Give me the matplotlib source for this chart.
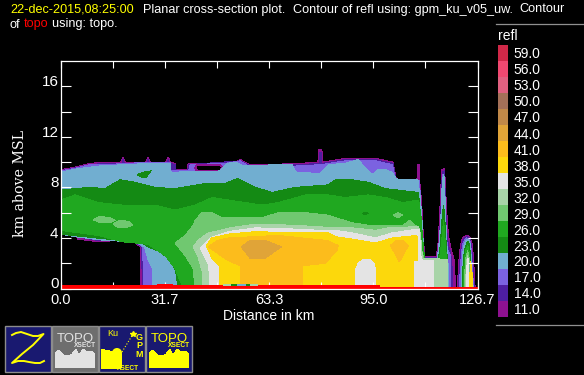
import numpy as np
import matplotlib
matplotlib.use("Agg")
import matplotlib.pyplot as plt
from matplotlib.lines import Line2D

W, H = 584, 375
SANS = ["Liberation Sans", "DejaVu Sans"]
TITLE = ["Liberation Sans", "DejaVu Sans"]

LEVELS = [11, 14, 17, 20, 23, 26, 29, 32, 35, 38, 41, 44, 47, 50, 53, 56, 59]
COLORS = ["#8E1190", "#4E1EA0", "#7B62E0", "#71AED0", "#148A14", "#20A820", "#70C870",
          "#A8D4A8", "#E4E4E4", "#FCD80C", "#FCBC1C", "#E0A438", "#C08848", "#A47058",
          "#E06080", "#F04870", "#D02848"]
XTICK_LABELS = ["0.0", "", "31.7", "", "63.3", "", "95.0", "", "126.7"]
XTICKS = [0, 15.84, 31.67, 47.51, 63.35, 79.19, 95.02, 110.86, 126.7]
YTICKS = [0, 2, 4, 6, 8, 10, 12, 14, 16]
YTICK_LABELS = ["0", "", "4", "", "8", "", "12", "", "16"]

# Outer edge of each reflectivity region: distance (km) and height (km)
X11_T = [0,4.4,9,13.5,18.3,19,19.7,25.9,26.6,27.3,32,32.7,33.4,34.8,35.1,38.5,38.8,50,54,54.6,57.6,62,72.9,78.2,78.5,79.4,79.7,86.5,95.7,101,102,102.5,108.3,108.5,109,109.3,109.7,110.3,110.7,114.2,114.8,115.4,115.8,116.7,117,117.6,117.9,118.5,119.7,120]
Y11_T = [9.4,9.6,9.9,10,10,10.4,10,10,10.4,10,10,10.4,10,9.9,9.4,9.4,9.9,9.9,10.1,10.2,9.8,9.8,9.9,10,11,11,10,10.3,10.3,10,8.7,8.6,8.6,9.8,9.8,7.8,7,3.8,2.5,2.5,3.8,7,9.4,9.5,7.8,5,4.2,3.3,2.2,0]
X11_B = [0,4.4,5.3,11.4,17.5,22.7,24.2,24.4,120]
Y11_B = [4.4,4.2,3.9,3.7,3.8,3.6,3.3,0,0]

X14_T = [0,9,13.5,18.7,19,19.4,26.3,26.6,26.9,32.4,32.7,33,34.8,35.2,38.6,38.9,54.6,57.6,72.9,78.6,78.8,79.2,79.4,86.5,95.7,101,101.9,102.4,108.9,109.4,110,110.6,114.5,115.1,115.7,116,116.6,116.9,117.3,117.9,118.5,119,119.2]
Y14_T = [9.3,9.8,9.9,9.9,10.2,9.9,9.9,10.2,9.9,9.9,10.2,9.9,9.8,9.3,9.3,9.8,10.1,9.7,9.8,9.9,10.8,10.8,9.9,10.2,10.2,9.9,8.7,8.5,8.5,7.2,3.8,2.45,2.45,3.8,7,9.2,9.3,7.5,4.6,3.4,2.9,1.6,0]
X14_B = [0,5,11.4,17.5,22.7,24.5,25,119.2]
Y14_B = [4.4,4.1,3.8,3.9,3.7,3.3,0,0]

X17_T = [0,4.4,9,13.5,27.2,33.3,33.6,38.9,39.4,50,54.6,57.6,72.9,78.8,79.2,86.5,95.7,100.8,101.8,102.3,109,109.4,110.1,110.5,114.7,115.3,115.8,116.2,116.5,116.8,117.2,117.7,118.5,118.6]
Y17_T = [9.3,9.5,9.8,9.8,10,10,9.3,9.3,9.8,9.9,10.1,9.6,9.7,9.8,9.8,10.1,10.1,9.8,8.65,8.55,8.55,7.1,3.8,2.4,2.4,3.8,6.6,9,9,7.5,4.2,3,2.6,0]
X17_B = [0,5,11.4,17.5,22.7,25,25.2,118.6]
Y17_B = [4.35,4.1,3.85,3.9,3.7,3.3,0,0]

X20_T = [0,5.9,12,27.2,33.3,33.6,48.5,50.6,53.1,55.5,61.6,63.7,70.4,71.6,78.9,81.4,86.5,90.5,91.7,93.2,94.7,96.3,98.7,100.8,102,102.7,108.6,109.4,110,110.4,114.5,115.1,115.7,116,116.5,116.8,117.3,117.7,117.9]
Y20_T = [9.2,9.5,9.7,9.9,9.9,9.2,9.3,9.9,10,9.7,9.7,9.8,9.8,9.2,9.1,9.8,9.9,10.2,9.8,9.4,9,9.4,9.4,9.2,8.7,8.6,8.6,7,4.8,2.4,2.4,3.8,6.2,8.6,9,7.4,3.8,2.4,0]
X20_B = [0,4.4,13.5,22.7,25.5,26.7,27.9,28.1,117.9]
Y20_B = [4.3,4.1,3.8,3.7,3.3,2.2,1.6,0,0]

X23_T = [0,9,13.5,18.1,22.7,28.7,34.8,43.9,50,53.7,59.2,64.3,71.3,81.4,83.5,88.7,93.5,98.7,108.8,109.5,110.1,110.6,114.8,115.4,116,116.4,116.7,117.3,117.6,117.7]
Y23_T = [7.8,8,7.9,8.6,8.4,8,7.9,8.3,8.3,8.7,8,7.6,8,8.2,8.6,8.6,8.4,7.9,7.6,5,3.4,2.3,2.3,3.4,5.8,6.6,5.8,3,2.3,0]
X23_B = [0,18.1,24.2,26.6,30.3,33.5,35,35.7,117.7]
Y23_B = [4.3,3.8,3.7,3.3,2.9,2.2,1.4,0,0]

X26_T = [0,4.4,11.4,18.7,28.7,34.8,40.9,46.1,51,61.3,66.2,74.4,81.4,86.5,93.5,98.7,104,108.8,109.5,110,110.7,115.1,115.7,116.4,117,117.3,117.6]
Y26_T = [7,7.4,6.8,6.6,6.6,6.2,6.6,7.2,7,6.6,6.8,7.4,7.4,7.2,7.4,7.2,6.8,7,5.8,4,2.2,2.2,3.4,5.4,3.4,2.2,0]
X26_B = [0,11.4,18.7,26.6,31.8,34.8,37.3,117.6]
Y26_B = [4.6,4.2,3.7,3.5,2.6,1.6,0,0]

X29_T = [34.8,37.9,40.3,40.9,43,46.1,49.1,61.3,66.2,74.4,81.4,83.5,88.7,93.5,99.6,104.2,106,107.8,108.8,109.7,110.7,117.6]
Y29_T = [3.6,4.2,5,5.4,6,6,5.6,5.6,6,6,5.8,5.6,5.2,5,5,5,5.4,5,4.8,3,2.2,2.2]
X29_B = [34.8,37.9,40.3,40.9,117.6]
Y29_B = [3.6,2.6,1.6,0,0]

X32_T = [40.3,41.8,43.3,44.9,48.5,51.6,59.2,71.3,83.5,88.7,95.7,99.6,108.8,109.4,110,117.6]
Y32_T = [3.3,3.8,4.1,4.4,4.6,4.8,5.1,5,4.8,4.8,4.6,4.8,4.9,4.2,2.4,2.3]
X32_B = [40.3,41.8,43,43.3,117.6]
Y32_B = [3.3,2.5,1.4,0,0]

X35_T = [42.4,45.5,51,59.2,71.3,78.9,83.5,88.7,95.7,100.8,108.4,109.1,109.4,110,113.3,113.4]
Y35_T = [3.2,4,4.5,4.8,4.7,4.6,4.6,4.4,4,4.4,4.7,4.7,2.6,2.2,2.2,0]
X35_B = [42.4,45.1,45.2,113.4]
Y35_B = [3.2,1.8,0,0]

X38_T = [44.3,45.9,51,59.2,71.3,81.4,83.5,88.7,95.7,100.8,108.2,108.4,108.5,107.4,107.3]
Y38_T = [3.4,4,4.3,4.5,4.4,4.4,4.1,3.9,3.6,4,4.2,4,2.2,2.2,0]
X38_B = [44.3,46,48.2,48.5,107.3]
Y38_B = [3.4,2.4,1.8,0,0]

X41_T = [44.9,47.6,51,66.2,73.5,81,84.4]
Y41_T = [3.3,3.8,4,4.2,4,3.8,3.4]
X41_B = [44.9,47.6,51,54.6,54.7,73.4,73.5,80.4,84,84.4]
Y41_B = [3.3,2.8,2.2,1.8,0,0,1.8,2,3,3.4]

X41B_T = [100.2,102,104,105.7]
Y41B_T = [3.4,3.8,3.8,3.4]
X41B_B = [100.2,102,103,104,105.7]
Y41B_B = [3.4,2.6,2.1,2.6,3.4]

X44_T = [54.9,57.6,62.2,67.1]
Y44_T = [3.3,3.8,3.8,3.3]
X44_B = [54.9,57.6,62.2,67.1]
Y44_B = [3.3,2.4,2.4,3.3]

# Dome of 35 dBZ below the 38 dBZ region, and echo-free cavity near the top
DOME_X = [89.6,89.6,90.5,92,94,95.3,95.7,95.7]
DOME_Y = [0,1.5,2,2.3,2.3,2,1.5,0]
HOLE_X = [40.9,41.5,48.5,49.1,48.5,41.5]
HOLE_Y = [9.55,9.8,9.8,9.55,9.3,9.3]

# Small embedded cells
BLOB23A_X = [23.3,25,27.5,26,24.8]
BLOB23A_Y = [9,9.2,9.3,8.8,8.8]
BLOB23B_X = [91.7,92.6,93.5,92.6]
BLOB23B_Y = [5.95,6.05,5.95,5.85]
BLOB29A_X = [9.9,12,15,16.6,15,12]
BLOB29A_Y = [5.45,5.7,5.6,5.4,5.2,5.2]
BLOB29B_X = [16,18,21,21.8,19.5,17.5]
BLOB29B_Y = [5.1,5.4,5.3,5,4.8,4.8]
BLOB29C_X = [101.1,102.5,103.9,102.5]
BLOB29C_Y = [5.8,6,5.8,5.6]

# Eastern tower
TX11 = [120.6,120.9,121.5,122.1,123.4,124.3,125.2,125.7,126]
TY11 = [0,1.8,3.4,4,4.2,4.1,3.4,1.4,0]
TX14 = [120.9,121.2,121.8,122.4,123.4,124.3,124.9,125.4,125.8]
TY14 = [0,1.8,3.4,3.9,4.1,4,3.4,1.4,0]
TX17 = [121.2,121.5,122.1,122.7,123.4,124.3,124.7,125.2,125.5]
TY17 = [0,1.8,3.4,3.8,4,3.9,3.3,1.4,0]
TX20 = [121.8,122,122.4,123,123.7,124.3,124.6,125,125.4]
TY20 = [0,1.8,3.3,3.7,3.9,3.7,3.3,1.4,0]
TX23 = [122.1,122.3,122.7,123.4,123.8,124.3,124.6,124.9]
TY23 = [0,1.8,3,3.6,3.7,3.5,2.2,0]
TX26 = [122.4,122.6,123,123.7,124.1,124.6,124.8]
TY26 = [0,1.8,2.9,3.4,3,1.4,0]
TX29 = [122.7,123,123.7,124.1,124.4]
TY29 = [0,2.2,3,2.6,0]
TX32 = [123,123.4,123.7,124,124.3]
TY32 = [0,2.1,2.6,2.1,0]
TX35 = [123.2,123.5,123.8,124,124.2]
TY35 = [0,1.8,2.4,1.8,0]
TX38 = [124.3,124.5,125,125.1]
TY38 = [0,2.1,1.8,0]

# Terrain
TOPO_X = [0,29.4,29.5,34,34.1,97,97.1,126.7,126.7,0]
TOPO_Y = [0.2,0.2,0.32,0.32,0.2,0.2,0.07,0.07,0,0]

plt.rcParams["font.family"] = SANS
fig = plt.figure(figsize=(W / 100, H / 100), dpi=100, facecolor="black")
ax = fig.add_axes([60.5 / W, 1 - 288.5 / H, 417 / W, 227.5 / H], facecolor="black")


def region(xt, yt, xb, yb, color):
    px = list(xt) + list(xb)[::-1]
    py = list(yt) + list(yb)[::-1]
    ax.fill(px, py, color=color, lw=0, antialiased=False)


def blob(x, y, color):
    ax.fill(x, y, color=color, lw=0, antialiased=False)


c = dict(zip(LEVELS, COLORS))
region(X11_T, Y11_T, X11_B, Y11_B, c[11]); blob(TX11, TY11, c[11])
region(X14_T, Y14_T, X14_B, Y14_B, c[14]); blob(TX14, TY14, c[14])
region(X17_T, Y17_T, X17_B, Y17_B, c[17]); blob(TX17, TY17, c[17])
ax.fill(HOLE_X, HOLE_Y, facecolor="black", edgecolor=c[11], lw=0.7, antialiased=False)
region(X20_T, Y20_T, X20_B, Y20_B, c[20]); blob(TX20, TY20, c[20])
blob(BLOB23A_X, BLOB23A_Y, c[23])
region(X23_T, Y23_T, X23_B, Y23_B, c[23]); blob(TX23, TY23, c[23])
region(X26_T, Y26_T, X26_B, Y26_B, c[26]); blob(TX26, TY26, c[26])
blob(BLOB23B_X, BLOB23B_Y, c[23])
blob(BLOB29A_X, BLOB29A_Y, c[29]); blob(BLOB29B_X, BLOB29B_Y, c[29]); blob(BLOB29C_X, BLOB29C_Y, c[29])
region(X29_T, Y29_T, X29_B, Y29_B, c[29]); blob(TX29, TY29, c[29])
region(X32_T, Y32_T, X32_B, Y32_B, c[32]); blob(TX32, TY32, c[32])
region(X35_T, Y35_T, X35_B, Y35_B, c[35]); blob(TX35, TY35, c[35])
region(X38_T, Y38_T, X38_B, Y38_B, c[38]); blob(TX38, TY38, c[38])
blob(DOME_X, DOME_Y, c[35])
region(X41_T, Y41_T, X41_B, Y41_B, c[41])
region(X41B_T, Y41B_T, X41B_B, Y41B_B, c[41])
region(X44_T, Y44_T, X44_B, Y44_B, c[44])
ax.fill(TOPO_X, TOPO_Y, color="#FF0000", lw=0, antialiased=False, zorder=3)
# thin multi-coloured sliver on the ground
ax.fill([49.4, 60.1, 60.1, 49.4], [0.2, 0.2, 0.35, 0.35], color=c[32], lw=0, antialiased=False, zorder=3)
ax.fill([51.9, 57.6, 57.6, 51.9], [0.2, 0.2, 0.35, 0.35], color=c[23], lw=0, antialiased=False, zorder=3)
ax.fill([53.7, 56.4, 56.4, 53.7], [0.2, 0.2, 0.35, 0.35], color=c[20], lw=0, antialiased=False, zorder=3)

ax.set_xlim(0, 126.7)
ax.set_ylim(0, 18)
ax.set_xticks(XTICKS)
ax.set_xticklabels(XTICK_LABELS)
ax.set_yticks(YTICKS)
ax.set_yticklabels(YTICK_LABELS)
ax.tick_params(axis="x", which="major", direction="in", length=5, width=0.8, color="white",
               top=True, bottom=True, labelcolor="white", labelsize=10.5, pad=3.5)
ax.tick_params(axis="y", which="major", direction="in", length=7.2, width=0.8, color="white",
               left=True, right=True, labelcolor="white", labelsize=11, pad=1.5)
for t in ax.get_yticklabels():
    t.set_va("baseline")
for s in ax.spines.values():
    s.set_color("white")
    s.set_linewidth(0.9)
    s.set_zorder(5)


def ft(x, y, s, **k):
    k.setdefault("color", "white")
    k.setdefault("va", "baseline")
    return fig.text(x / W, 1 - y / H, s, **k)


# Titles
TS = 9.1
ft(10, 12.5, "22-dec-2015,08:25:00", color="#FFFF00", family=TITLE, fontsize=TS)
ft(143, 12.5, "Planar cross-section plot.", family=TITLE, fontsize=TS)
ft(293, 12.5, "Contour of refl using: gpm_ku_v05_uw.", family=TITLE, fontsize=TS)
ft(519, 12.5, "Contour", family=TITLE, fontsize=TS)
ft(10, 27.5, "of", family=TITLE, fontsize=TS)
ft(24, 27.5, "topo", color="#FF0000", family=TITLE, fontsize=TS)
ft(52, 27.5, "using: topo.", family=TITLE, fontsize=TS)
ft(268.5, 319.5, "Distance in km", ha="center", family=TITLE, fontsize=10)
ft(20, 183, "km above MSL", rotation=90, ha="center", va="center", family=["DejaVu Serif"], fontsize=10.2)

# Colour bar
cax = fig.add_axes([498 / W, 1 - 317 / H, 10 / W, 272 / H], facecolor="black")
cax.bar(0.5, [1] * len(LEVELS), bottom=np.arange(len(LEVELS)), width=1, color=COLORS, linewidth=0)
cax.set_xlim(0, 1)
cax.set_ylim(0, len(LEVELS))
cax.set_xticks([])
cax.yaxis.tick_right()
cax.set_yticks(np.arange(len(LEVELS)) + 0.5)
cax.set_yticklabels([f"{v:.1f}" for v in LEVELS])
cax.tick_params(axis="y", length=0, pad=4, labelcolor="white", labelsize=10)
for s in cax.spines.values():
    s.set_visible(False)
ft(498, 40, "refl", family=TITLE, fontsize=10)
for yy in (23.5, 324.5):
    fig.add_artist(Line2D([496 / W, 1], [1 - yy / H, 1 - yy / H], color="#909090", lw=0.9))

# Product icons
ic = fig.add_axes([0, 0, 1, 1], facecolor="none", zorder=10)
ic.set_xlim(0, W)
ic.set_ylim(H, 0)
ic.axis("off")
NAVY, YEL = "#191970", "#FFFF00"
for x0, face in [(5, NAVY), (52, "#6E6E6E"), (99, NAVY), (146, NAVY)]:
    ic.add_patch(plt.Rectangle((x0, 325.5), 45.5, 46.5, fc=face, ec="#8C8C8C", lw=1))
ic.plot([12, 16, 21, 27, 33, 38, 43.5, 33, 22, 12, 18, 24, 29, 35, 40, 44],
        [335, 333, 332, 334, 336, 336, 334, 345, 354, 363, 361, 361, 362, 363, 363, 361],
        color=YEL, lw=1.4)
MX = [0, 0, 4, 9, 13, 17, 21, 24, 28, 32, 36, 40, 40]
MY = [45, 30, 27, 32, 33, 31, 26, 32, 26, 29, 28, 31, 45]
for x0, col, tcol in [(55, "#E2E2E2", "#E2E2E2"), (149, YEL, YEL)]:
    ic.fill(np.array(MX) + x0, np.array(MY) + 323, color=col, lw=0, antialiased=False)
    ic.text(x0 + 20, 341.5, "TOPO", color=tcol, fontsize=9.5, ha="center", va="baseline", family=TITLE)
    ic.text(x0 + 30, 347, "XSECT", color=tcol, fontsize=4.8, ha="center", va="baseline",
            family=TITLE, weight="bold")
ic.text(113, 336, "Ku", color=YEL, fontsize=6.5, ha="center", va="baseline", family=TITLE)
for i, ch in enumerate("GPM"):
    ic.text(139, 340 + i * 8.5, ch, color=YEL, fontsize=6.5, ha="center", va="baseline", family=TITLE, weight="bold")
ic.text(128, 370, "XSECT", color=YEL, fontsize=4.8, ha="center", va="baseline", family=TITLE, weight="bold")
gx, gy = np.meshgrid(np.arange(102, 122), np.arange(349, 369))
gmask = ((gx + gy) % 2 == 0) & (gy > 349 + (gx - 102) * 0.25)
ic.scatter(gx[gmask], gy[gmask], s=1.1, marker="s", color=YEL, lw=0)
ic.add_patch(plt.Circle((117, 353), 5, fc=YEL, ec="none"))
ic.add_patch(plt.Rectangle((102, 362), 8, 7, fc=YEL, ec="none"))
ic.plot([122, 133], [352, 334], color=YEL, lw=0.8, ls=":")
ic.plot([133], [334], marker="*", color=YEL, ms=4)

fig.savefig("out.png", dpi=100, facecolor="black")
